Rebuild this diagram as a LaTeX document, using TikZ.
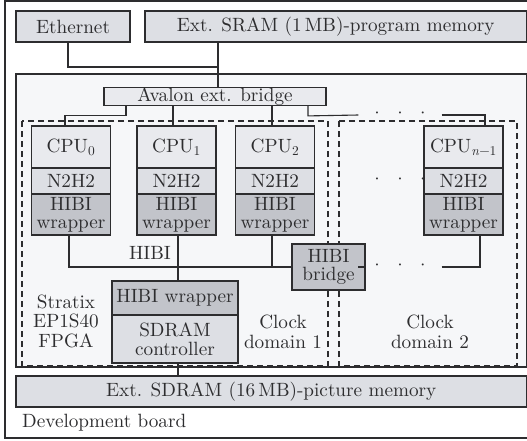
\documentclass[tikz,border=0pt]{standalone}
\usepackage{fontspec}
\setmainfont{lmroman10-regular}[Extension=.otf, ItalicFont=lmroman10-italic, BoldFont=lmroman10-bold]
\usepackage{xcolor}
\usepackage{tikz}

\definecolor{boardgray}{RGB}{221,223,228}
\definecolor{fpgabg}{RGB}{246,247,249}
\definecolor{cpugray}{RGB}{233,234,238}
\definecolor{wrapgray}{RGB}{194,196,202}
\definecolor{linegray}{RGB}{45,45,47}

\newcommand{\sparsedots}{·\hspace{8pt}·\hspace{8pt}·}

\tikzset{
  blk/.style={draw=linegray, line width=1.1pt, inner sep=0pt, text=linegray,
    font=\fontsize{19.2}{18.5}\selectfont, align=center},
  membox/.style={blk, fill=boardgray, minimum height=31pt},
  cpubox/.style={blk, fill=cpugray, minimum width=79pt, minimum height=42pt},
  n2box/.style={blk, fill=boardgray, minimum width=79pt, minimum height=26pt},
  wrapbox/.style={blk, fill=wrapgray, minimum width=79pt, minimum height=41pt,
    font=\fontsize{19.2}{18.2}\selectfont},
  lbl/.style={text=linegray, font=\fontsize{19.2}{19.5}\selectfont, align=center, inner sep=0pt},
  dotsnode/.style={text=linegray, font=\fontsize{19.2}{19}\selectfont, anchor=base,
    inner xsep=11pt, inner ysep=0pt},
  wire/.style={draw=linegray, line width=1.1pt},
  clkdomain/.style={draw=linegray, line width=1.1pt, dash pattern=on 6pt off 4pt},
}

\begin{document}
\begin{tikzpicture}[x=1pt, y=-1pt]
    \useasboundingbox (0,0) rectangle (527,440);

    % Board and FPGA
    \draw[wire] (5,1) rectangle (540,438);
    \draw[wire, fill=fpgabg] (16,74) rectangle (526.5,367);

    % Clock domains
    \draw[clkdomain] (22,121) rectangle (328,366);
    \draw[clkdomain] (339,121) rectangle (517,366);

    % Off-chip parts
    \node[membox, minimum width=114pt] (eth) at (73,26.5) {Ethernet};
    \node[membox, minimum width=381.5pt] (sram) at (335.75,26.5) {Ext. SRAM (1\,MB)-program memory};
    \node[membox, minimum width=510.5pt] (sdmem) at (271.25,391.5) {Ext. SDRAM (16\,MB)-picture memory};

    % Avalon bridge
    \node[blk, fill=cpugray, minimum width=222pt, minimum height=17pt] (avalon) at (215,96.5) {Avalon ext. bridge};

    % Processors
    \foreach \i/\cx/\sub in {0/71/0, 1/176.5/1, 2/275/2, 3/463.5/{\textit{n}−1}} {
        \node[cpubox] (cpu\i) at (\cx,147) {CPU\textsubscript{\sub}};
        \node[n2box] (nh\i) at (\cx,181) {N2H2};
        \node[wrapbox] (hw\i) at (\cx,214.5) {HIBI\\wrapper};
    }

    % HIBI bridge and SDRAM controller
    \node[blk, fill=wrapgray, minimum width=73pt, minimum height=46pt,
          font=\fontsize{19.2}{18}\selectfont] (bridge) at (328.5,267) {HIBI\\bridge};
    \node[blk, fill=wrapgray, minimum width=126pt, minimum height=34pt] (sdw) at (175,298) {HIBI wrapper};
    \node[blk, fill=boardgray, minimum width=126pt, minimum height=48pt] (sdc) at (175,339) {SDRAM\\controller};

    % Dots
    \node[dotsnode] (dtop) at (400,119.6) {\sparsedots};
    \node[dotsnode] (dmid) at (400,185) {\sparsedots};
    \node[dotsnode] (dbus) at (400,271.6) {\sparsedots};

    % Labels
    \node[lbl] (hibilbl) at (150,253) {HIBI};
    \node[lbl] (fpgalbl) at (66,321) {Stratix\\EP1S40\\FPGA};
    \node[lbl] (cd1lbl) at (283,332) {Clock\\domain 1};
    \node[lbl] (cd2lbl) at (430,332) {Clock\\domain 2};
    \node[lbl, anchor=west] (devlbl) at (22,423) {Development board};

    % Board connections
    \coordinate (join) at (218,67);
    \draw[wire] ([xshift=-5]eth.south) |- (join);
    \draw[wire] ([xshift=-117.75]sram.south) -- ([xshift=3]avalon.north);

    % Avalon to CPUs
    \draw[wire] ([xshift=-89]avalon.south) -- ++(0,10) -| ([xshift=-6]cpu0.north);
    \draw[wire] ([xshift=-42]avalon.south) -- ([xshift=-3.5]cpu1.north);
    \draw[wire] ([xshift=57]avalon.south) -- ([xshift=-3]cpu2.north);
    \draw[wire] ([xshift=93]avalon.south) -- ++(0,10) -- (dtop.west |- 0,115);
    \draw[wire] (dtop.east |- 0,115) -| ([xshift=21.5]cpu3.north);

    % HIBI bus
    \draw[wire] ([xshift=-2]hw0.south) |- (bridge.west);
    \draw[wire] ([xshift=1.5]hw1.south) -- ([xshift=3]sdw.north);
    \draw[wire] ([xshift=-3]hw2.south) -- ([xshift=-3]hw2.south |- bridge.west);
    \draw[wire] (bridge.east) -- (bridge.east -| dbus.west);
    \draw[wire] (bridge.east -| dbus.east) -| ([xshift=16.5]hw3.south);

    % SDRAM
    \draw[wire] ([xshift=3]sdc.south) -- ([xshift=-93.25]sdmem.north);
\end{tikzpicture}
\end{document}
